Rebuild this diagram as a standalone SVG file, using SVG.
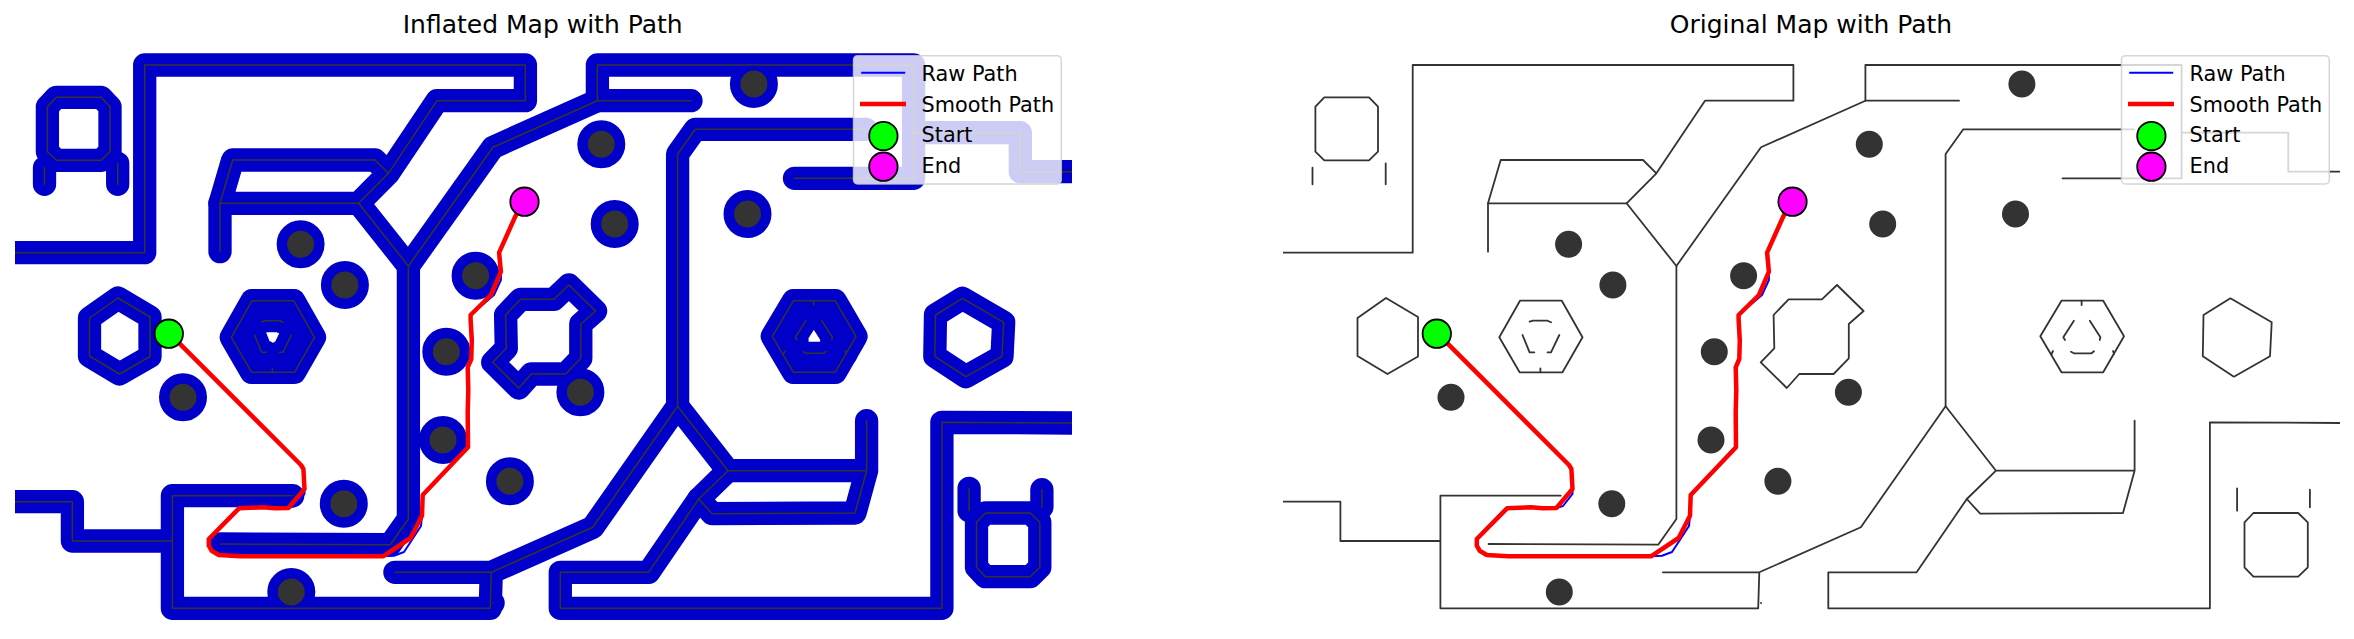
<svg xmlns="http://www.w3.org/2000/svg" xmlns:xlink="http://www.w3.org/1999/xlink" width="2354" height="639" viewBox="0 0 2354 639">
<style>
text{font-family:"DejaVu Sans",sans-serif;fill:#000}
.title{font-size:25px;text-anchor:middle}
.lg{font-size:20.8px}
.geo{fill:none;stroke-linecap:round;stroke-linejoin:round}
.inflate{stroke:#0000c8;stroke-width:23.3}
.wall{stroke:#333;stroke-width:1.5}
.wall2{stroke:#333;stroke-width:1.8}
.halo{fill:#0000c8;stroke:#0000c8;stroke-width:21}
.core{fill:#333;stroke:none}
.raw{fill:none;stroke:#0000ff;stroke-width:2;stroke-linejoin:round}
.smooth{fill:none;stroke:#ff0000;stroke-width:4.5;stroke-linejoin:round}
.box{fill:#fff;fill-opacity:.8;stroke:#ccc;stroke-opacity:.8;stroke-width:1.5}
.mk{stroke:#000;stroke-width:1.8}
.start{fill:#00ff00}
.end{fill:#ff00ff}
</style>
<defs>
<clipPath id="mapclip"><rect x="15" y="0" width="1057" height="639"/></clipPath>
<g id="walls" class="geo">
<path d="M15 252.7H144.7V65H525.4V100.7H437L388.4 173.3L358.6 203.3H220L232.7 160H375L388.4 173.3"/>
<path d="M220 203.3V251.7"/>
<path d="M358.6 203.3L408.4 266V519L390.2 544.7L220.6 544"/>
<path d="M691 100.7H597.4V65H913.6V178.3H794.5"/>
<path d="M597.4 100.7L493 147.3L408.4 266"/>
<path d="M866 129.3H695.3L677.6 154V406.3L728 470.7H866.6V420.7M866.6 470.7L855 513L712.2 513.7L698.8 499L728 470.7"/>
<path d="M913.6 132.7H1020.3V171.7H1072"/>
<path d="M698.8 499L648.6 572.3H560.3V608.3H941.9V422.3L1072 423"/>
<path d="M677.6 406.3L592.8 527.3L491.3 572.3H394.9M491.3 572.3L490.2 608.3H172.4V495.7H292.7M172.4 541H72.4V501.7H15"/>
<path d="M493 603h.1"/>
<path d="M56.3 97.3H101L110 106.7V151.7L101 160.3H56.3L47.4 151.7V106.7Z"/>
<path d="M44.5 167.7V184.3M117.7 163.3V184.3"/>
<path d="M985.4 513H1030.2L1039.8 522.3V567.3L1030.2 576.7H985.4L976.5 567.3V522.3Z"/>
<path d="M969.1 488.3V510.7M1041.9 489.7V507.3"/>
<path d="M118 298L150 317V356.5L119.5 374L89.5 356V318Z"/>
<path d="M252 300.7H293.8L314.5 337.3L294.5 372.3H251.6L231.3 337.3Z"/>
<path d="M254.5 335L261.6 352.3H266.3M291.3 335L283 352.3H279.5M261.6 321.7L265 320.7H279.5L283 322.3M272.4 368.3V372.3"/>
<path d="M793.5 300.7H835.2L856 336.3L835.2 372.3H793.5L772.3 336.3Z"/>
<path d="M805.9 320.7L795.3 337.3L797 340M821.8 320.7L832.4 337.3L831.7 340M803 351.7L805.9 353.3H823.5L826 351.3M813.6 300.7V305M783.6 354L785 351M845 351L846 354"/>
<path d="M962.4 298.3L1003.7 322.3L1002 356.3L965.9 376.7L934.8 356.3L935.5 315Z"/>
<path d="M532 299.3H553.9L569 285L595.6 311L580.8 324V358.3L565.6 374H531.3L518.8 388L492.7 362.3L506.3 348.3L505.6 315L520.6 299.3Z"/>
</g>
<g id="obstacles">
<circle cx="300.6" cy="244.3" r="13.5"/>
<circle cx="344.9" cy="285" r="13.5"/>
<circle cx="475.6" cy="275.7" r="13.5"/>
<circle cx="753.9" cy="84" r="13.5"/>
<circle cx="601.3" cy="144.3" r="13.5"/>
<circle cx="614.7" cy="224" r="13.5"/>
<circle cx="747.5" cy="214" r="13.5"/>
<circle cx="183" cy="397.3" r="13.5"/>
<circle cx="446.3" cy="351.7" r="13.5"/>
<circle cx="443" cy="440" r="13.5"/>
<circle cx="343.8" cy="503.7" r="13.5"/>
<circle cx="509.9" cy="481.3" r="13.5"/>
<circle cx="291.3" cy="592" r="13.5"/>
<circle cx="580.4" cy="392.3" r="13.5"/>
</g>
<g id="paths">
<path class="raw" d="M524.5 200L515.2 216.7L499.1 252.7L500.9 271.7V280L494 295L470.6 315V319.7L471.3 359L467.7 367.3V412.3L468 447.3L422.7 495L422 515.7L421 526L404 552L394 555.7L383 556.3H240.2L218.8 555L211.6 550.7L208.8 545.7V539L239 508.3L263 507.3L288.4 508L295 506L304.5 494V489L303.4 469L301 465L167.7 331.7"/>
<path class="smooth" d="M524.5 200L515.2 216.7L499.1 252.7L500.9 271.7L490.9 295L470.6 315V319.7L471.8 340L471.3 359L467.7 367.3L468.3 390L467.7 412.3L468 447.3L422.7 495L422 515.7L410.6 538L383 556.3H240.2L218.8 555L211.6 550.7L208.8 545.7V539L239 508.3L263 507.3L275 508.3L288.4 508L304.5 489L303.4 469L301 465L167.7 331.7"/>
</g>
<g id="pointmarks">
<circle class="mk start" cx="168.8" cy="333.7" r="14.2"/>
<circle class="mk end" cx="524.5" cy="201.7" r="14.2"/>
</g>
<g id="legend">
<rect class="box" x="853.5" y="55.7" width="207.8" height="128.3" rx="4"/>
<path d="M861.2 72.7H905.2" fill="none" stroke="#0000ff" stroke-width="2"/>
<path d="M860 104H906" fill="none" stroke="#ff0000" stroke-width="4.5"/>
<circle class="mk start" cx="883.4" cy="136" r="14.2"/>
<circle class="mk end" cx="883.4" cy="166.7" r="14.2"/>
<text class="lg" x="921.6" y="80.7">Raw Path</text>
<text class="lg" x="921.6" y="111.7">Smooth Path</text>
<text class="lg" x="921.6" y="142">Start</text>
<text class="lg" x="921.6" y="172.7">End</text>
</g>
</defs>
<rect width="2354" height="639" fill="#fff"/>
<g id="inflated-panel">
<text class="title" x="542.7" y="33.3">Inflated Map with Path</text>
<g id="inflated-map" clip-path="url(#mapclip)">
<use href="#obstacles" class="halo"/>
<use href="#walls" class="inflate"/>
<use href="#walls" class="wall"/>
<use href="#obstacles" class="core"/>
</g>
<use href="#paths"/>
<use href="#pointmarks"/>
<use href="#legend"/>
</g>
<g id="original-panel">
<text class="title" x="1811" y="33.3">Original Map with Path</text>
<g id="original-map" transform="translate(1268 0)">
<g clip-path="url(#mapclip)">
<use href="#walls" class="wall2"/>
<use href="#obstacles" class="core"/>
</g>
<use href="#paths"/>
<use href="#pointmarks"/>
<use href="#legend"/>
</g>
</g>
</svg>
